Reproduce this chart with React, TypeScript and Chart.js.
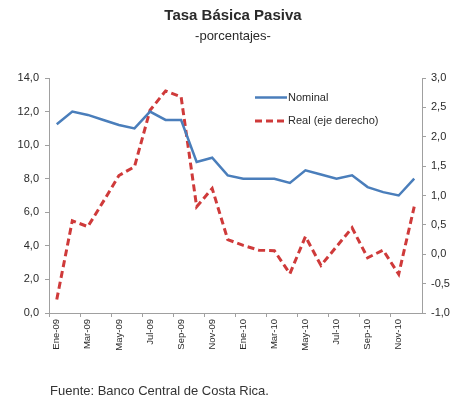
import React, { useEffect, useRef } from "react";
import { Chart, registerables } from "chart.js";

Chart.register(...registerables);

const months: string[] = [
  "Ene-09", "Feb-09", "Mar-09", "Abr-09", "May-09", "Jun-09",
  "Jul-09", "Ago-09", "Sep-09", "Oct-09", "Nov-09", "Dic-09",
  "Ene-10", "Feb-10", "Mar-10", "Abr-10", "May-10", "Jun-10",
  "Jul-10", "Ago-10", "Sep-10", "Oct-10", "Nov-10", "Dic-10",
];

// Tasa nominal (eje izquierdo)
const nominal: number[] = [
  11.25, 12.0, 11.8, 11.5, 11.2, 11.0,
  12.0, 11.5, 11.5, 9.0, 9.25, 8.2,
  8.0, 8.0, 8.0, 7.75, 8.5, 8.25,
  8.0, 8.2, 7.5, 7.2, 7.0, 8.0,
];

// Tasa real (eje derecho)
const real: number[] = [
  -0.77, 0.57, 0.47, 0.9, 1.34, 1.49,
  2.45, 2.78, 2.68, 0.81, 1.12, 0.25,
  0.15, 0.07, 0.06, -0.33, 0.3, -0.19,
  0.13, 0.45, -0.06, 0.07, -0.34, 0.81,
];

const leftTicks = { min: 0, max: 14, step: 2 };
const rightTicks = { min: -1, max: 3, step: 0.5 };

const titleText = "Tasa Básica Pasiva";
const subtitleText = "-porcentajes-";
const sourceText = "Fuente: Banco Central de Costa Rica.";
const nominalLabel = "Nominal";
const realLabel = "Real (eje derecho)";

const BLUE = "#4a7ebb";
const RED = "#cf3a3a";
const AXIS = "#a0a0a0";
const TEXT = "#2a2a2a";
const FONT = "'Liberation Sans', Arial, sans-serif";

const fmt = (v: number) => v.toFixed(1).replace(".", ",");

const annotations = {
  id: "annotations",
  afterDraw(chart: Chart) {
    const ctx = chart.ctx;
    ctx.save();
    ctx.fillStyle = TEXT;
    ctx.textAlign = "center";
    ctx.textBaseline = "middle";
    ctx.font = `bold 15px ${FONT}`;
    ctx.fillText(titleText, 233, 16);
    ctx.font = `13px ${FONT}`;
    ctx.fillText(subtitleText, 233, 36);

    // legend
    ctx.lineWidth = 2.5;
    ctx.strokeStyle = BLUE;
    ctx.beginPath();
    ctx.moveTo(255, 97.5);
    ctx.lineTo(287, 97.5);
    ctx.stroke();
    ctx.strokeStyle = RED;
    ctx.lineWidth = 3;
    ctx.setLineDash([7, 4]);
    ctx.beginPath();
    ctx.moveTo(255, 121);
    ctx.lineTo(285, 121);
    ctx.stroke();
    ctx.setLineDash([]);
    ctx.textAlign = "left";
    ctx.font = `11px ${FONT}`;
    ctx.fillText(nominalLabel, 288, 98);
    ctx.fillText(realLabel, 288, 121);

    ctx.font = `13px ${FONT}`;
    ctx.fillStyle = "#333";
    ctx.fillText(sourceText, 50, 391);
    ctx.restore();
  },
};

export default function App() {
  const ref = useRef<HTMLCanvasElement | null>(null);

  useEffect(() => {
    if (!ref.current) return;
    const chart = new Chart(ref.current, {
      type: "line",
      data: {
        labels: months,
        datasets: [
          {
            label: nominalLabel,
            data: nominal,
            yAxisID: "y",
            borderColor: BLUE,
            borderWidth: 2.5,
            pointRadius: 0,
            tension: 0,
            fill: false,
          },
          {
            label: realLabel,
            data: real,
            yAxisID: "y1",
            borderColor: RED,
            borderWidth: 3,
            borderDash: [7, 4],
            pointRadius: 0,
            tension: 0,
            fill: false,
          },
        ],
      },
      options: {
        responsive: false,
        animation: false,
        layout: { padding: { top: 78, left: 0, right: 0, bottom: 0 } },
        plugins: {
          legend: { display: false },
          title: { display: false },
          tooltip: { enabled: false },
        },
        scales: {
          x: {
            offset: true,
            grid: {
              offset: true,
              drawOnChartArea: false,
              drawTicks: true,
              tickLength: 4,
              color: (c: any) => (c.index % 2 === 0 ? AXIS : "rgba(0,0,0,0)"),
            },
            border: { color: AXIS, width: 1 },
            ticks: {
              autoSkip: false,
              maxRotation: 90,
              minRotation: 90,
              padding: 2,
              color: TEXT,
              font: { family: FONT, size: 9.5 },
              callback: (_v: any, i: number) => (i % 2 === 0 ? months[i] : ""),
            },
            afterFit: (s: any) => {
              s.height = 87;
            },
          },
          y: {
            position: "left",
            min: leftTicks.min,
            max: leftTicks.max,
            grid: { drawOnChartArea: false, tickLength: 4, color: AXIS },
            border: { color: AXIS, width: 1 },
            ticks: {
              stepSize: leftTicks.step,
              padding: 6,
              color: TEXT,
              font: { family: FONT, size: 11 },
              callback: (v: any) => fmt(Number(v)),
            },
            afterFit: (s: any) => {
              s.width = 49;
            },
          },
          y1: {
            position: "right",
            min: rightTicks.min,
            max: rightTicks.max,
            grid: { drawOnChartArea: false, tickLength: 4, color: AXIS },
            border: { color: AXIS, width: 1 },
            ticks: {
              stepSize: rightTicks.step,
              padding: 5,
              color: TEXT,
              font: { family: FONT, size: 11 },
              callback: (v: any) => fmt(Number(v)),
            },
            afterFit: (s: any) => {
              s.width = 32;
            },
          },
        },
      },
      plugins: [annotations],
    });
    return () => chart.destroy();
  }, []);

  return (
    <div style={{ position: "fixed", left: 0, top: 0, width: 454, height: 400, background: "#fff" }}>
      <canvas ref={ref} width={454} height={400} />
    </div>
  );
}
